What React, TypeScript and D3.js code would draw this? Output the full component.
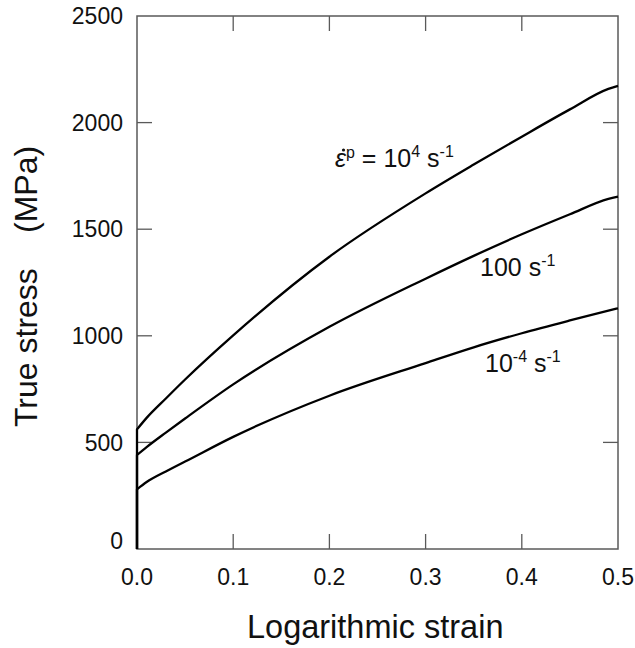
import React from "react";
import * as d3 from "d3";

const strain = [0, 0.01, 0.03, 0.05, 0.1, 0.2, 0.3, 0.35, 0.4, 0.45, 0.49, 0.5];
const stressHigh = [561, 615, 706, 795, 1002, 1371, 1668, 1803, 1934, 2062, 2158, 2172];
const stressMid = [441, 478, 546, 612, 772, 1042, 1268, 1375, 1476, 1570, 1642, 1653];
const stressLow = [280, 314, 364, 410, 526, 719, 872, 946, 1012, 1072, 1118, 1129];

const xTicks = [0, 0.1, 0.2, 0.3, 0.4, 0.5];
const yTicks = [0, 500, 1000, 1500, 2000, 2500];
const xTickLabels = ["0.0", "0.1", "0.2", "0.3", "0.4", "0.5"];

const W = 635;
const H = 648;
const left = 137;
const right = 618;
const top = 16;
const bottom = 549;

export default function App() {
  const x = d3.scaleLinear().domain([0, 0.5]).range([left, right]);
  const y = d3.scaleLinear().domain([0, 2500]).range([bottom, top]);
  const line = d3
    .line<[number, number]>()
    .x((d) => x(d[0]))
    .y((d) => y(d[1]))
    .curve(d3.curveMonotoneX);

  const series = [stressHigh, stressMid, stressLow];
  const paths = series.map((s) => {
    const pts: [number, number][] = strain.map((e, i) => [e, s[i]]);
    const body = line(pts) || "";
    return `M${x(0)},${y(0)}L` + body.slice(1);
  });

  const axisColor = "#5a5a5a";
  const font = "Arial, 'Liberation Sans', Helvetica, sans-serif";
  const tickLen = 15;

  return (
    <svg
      width={W}
      height={H}
      style={{ position: "absolute", left: 0, top: 0, background: "#fff" }}
      fontFamily={font}
    >
      <rect x={left} y={top} width={right - left} height={bottom - top} fill="none" stroke={axisColor} strokeWidth={1.5} />
      {xTicks.slice(1, -1).map((t) => (
        <g key={"xt" + t}>
          <line x1={x(t)} x2={x(t)} y1={bottom} y2={bottom - tickLen} stroke={axisColor} strokeWidth={1.3} />
          <line x1={x(t)} x2={x(t)} y1={top} y2={top + tickLen} stroke={axisColor} strokeWidth={1.3} />
        </g>
      ))}
      {yTicks.slice(1, -1).map((t) => (
        <g key={"yt" + t}>
          <line x1={left} x2={left + tickLen} y1={y(t)} y2={y(t)} stroke={axisColor} strokeWidth={1.3} />
          <line x1={right} x2={right - tickLen} y1={y(t)} y2={y(t)} stroke={axisColor} strokeWidth={1.3} />
        </g>
      ))}
      {xTicks.map((t, i) => (
        <text key={"xl" + t} x={x(t)} y={585} textAnchor="middle" fontSize={23} fill="#111">
          {xTickLabels[i]}
        </text>
      ))}
      {yTicks.map((t) => (
        <text
          key={"yl" + t}
          x={123}
          y={y(t) + (t === 0 ? -8 : 0)}
          dy="0.36em"
          textAnchor="end"
          fontSize={23}
          fill="#111"
        >
          {t}
        </text>
      ))}
      {paths.map((d, i) => (
        <path key={"p" + i} d={d} fill="none" stroke="#000" strokeWidth={2.3} strokeLinejoin="round" />
      ))}
      <text x={247} y={638} fontSize={32.5} fill="#111">
        Logarithmic strain
      </text>
      <g transform="translate(37,427) rotate(-90)">
        <text x={0} y={0} fontSize={32} fill="#111">
          True stress
        </text>
        <text x={194} y={0} fontSize={32} fill="#111">
          (MPa)
        </text>
      </g>
      <text x={335} y={167} fontSize={25} fill="#111">
        <tspan fontStyle="italic">ε</tspan>
        <tspan fontSize={16} dy={-9}>p</tspan>
        <tspan dy={9}> = 10</tspan>
        <tspan fontSize={16} dy={-10}>4</tspan>
        <tspan dy={10}> s</tspan>
        <tspan fontSize={16} dy={-10}>-1</tspan>
      </text>
      <circle cx={343.5} cy={150} r={1.6} fill="#111" />
      <text x={480} y={276} fontSize={25} fill="#111">
        100 s
        <tspan fontSize={16} dy={-10}>-1</tspan>
      </text>
      <text x={485} y={372} fontSize={25} fill="#111">
        10
        <tspan fontSize={16} dy={-10}>-4</tspan>
        <tspan dy={10}> s</tspan>
        <tspan fontSize={16} dy={-10}>-1</tspan>
      </text>
    </svg>
  );
}
